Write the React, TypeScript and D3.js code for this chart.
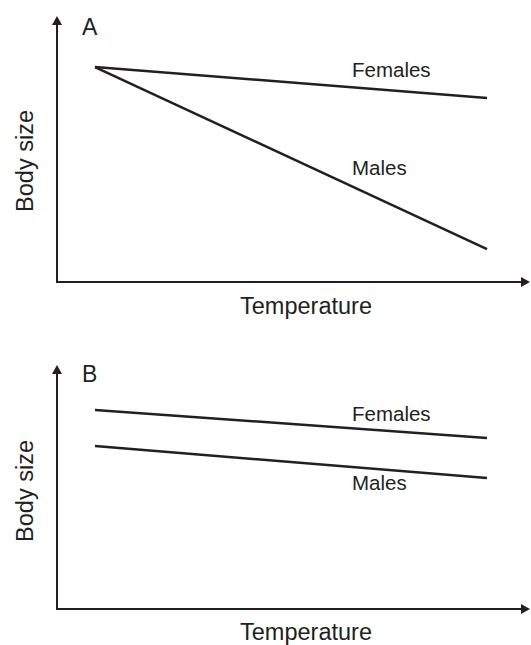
import React from "react";
import * as d3 from "d3";

// Data: relative temperature (0-10) vs body size (0-10)
const temps = [1, 9];
const panelAFemales = [8.08, 6.92];
const panelAMales = [8.08, 1.24];
const panelBFemales = [8.16, 7.01];
const panelBMales = [6.68, 5.37];
const panelLabels = ["A", "B"];
const seriesLabels = ["Females", "Males"];
const xTitle = "Temperature";
const yTitle = "Body size";

const W = 531;
const H = 645;
const INK = "#231f20";
const FONT = "'Liberation Sans', Arial, Helvetica, sans-serif";

type Panel = {
  label: string;
  top: number; // arrow tip y
  bottom: number; // x-axis y
  females: number[];
  males: number[];
  femLabelY: number;
  maleLabelY: number;
  labelBaseline: number;
  titleBaseline: number;
  yTitleCenter: number;
};

const panels: Panel[] = [
  {
    label: panelLabels[0],
    top: 16,
    bottom: 282,
    females: panelAFemales,
    males: panelAMales,
    femLabelY: 77,
    maleLabelY: 175,
    labelBaseline: 35,
    titleBaseline: 314,
    yTitleCenter: 161,
  },
  {
    label: panelLabels[1],
    top: 365,
    bottom: 609,
    females: panelBFemales,
    males: panelBMales,
    femLabelY: 421,
    maleLabelY: 490,
    labelBaseline: 382,
    titleBaseline: 640,
    yTitleCenter: 491,
  },
];

const axisLeft = 57;
const axisRight = 530;

// x scale: temperature units -> pixels (1 -> 95, 9 -> 487)
const x = d3.scaleLinear().domain([1, 9]).range([95, 487]);

function PanelView({ p }: { p: Panel }) {
  const y = d3.scaleLinear().domain([0, 10]).range([p.bottom, p.top]);
  const line = d3
    .line<number>()
    .x((_, i) => x(temps[i]))
    .y((d) => y(d));
  const ah = 9;
  const aw = 5;
  return (
    <g>
      {/* y axis */}
      <line x1={axisLeft} y1={p.bottom + 1} x2={axisLeft} y2={p.top + ah - 1} stroke={INK} strokeWidth={2} />
      <polygon
        points={`${axisLeft},${p.top} ${axisLeft - aw},${p.top + ah} ${axisLeft + aw},${p.top + ah}`}
        fill={INK}
      />
      {/* x axis */}
      <line x1={axisLeft - 1} y1={p.bottom} x2={axisRight - ah + 1} y2={p.bottom} stroke={INK} strokeWidth={2} />
      <polygon
        points={`${axisRight},${p.bottom} ${axisRight - ah},${p.bottom - aw} ${axisRight - ah},${p.bottom + aw}`}
        fill={INK}
      />
      {/* series */}
      <path d={line(p.females) || ""} fill="none" stroke={INK} strokeWidth={2.5} />
      <path d={line(p.males) || ""} fill="none" stroke={INK} strokeWidth={2.5} />
      {/* labels */}
      <text x={82} y={p.labelBaseline} fontSize={23} fill={INK} fontFamily={FONT}>
        {p.label}
      </text>
      <text x={352} y={p.femLabelY} fontSize={20.5} fill={INK} fontFamily={FONT}>
        {seriesLabels[0]}
      </text>
      <text x={352} y={p.maleLabelY} fontSize={20.5} fill={INK} fontFamily={FONT}>
        {seriesLabels[1]}
      </text>
      <text
        x={306}
        y={p.titleBaseline}
        fontSize={23.5}
        fill={INK}
        fontFamily={FONT}
        textAnchor="middle"
      >
        {xTitle}
      </text>
      <text
        transform={`translate(33,${p.yTitleCenter}) rotate(-90)`}
        fontSize={23.5}
        fill={INK}
        fontFamily={FONT}
        textAnchor="middle"
      >
        {yTitle}
      </text>
    </g>
  );
}

export default function App() {
  return (
    <svg
      width={W}
      height={H}
      viewBox={`0 0 ${W} ${H}`}
      style={{ position: "absolute", left: 0, top: 0, background: "#fff" }}
    >
      <rect width={W} height={H} fill="#fff" />
      {panels.map((p) => (
        <PanelView key={p.label} p={p} />
      ))}
    </svg>
  );
}
